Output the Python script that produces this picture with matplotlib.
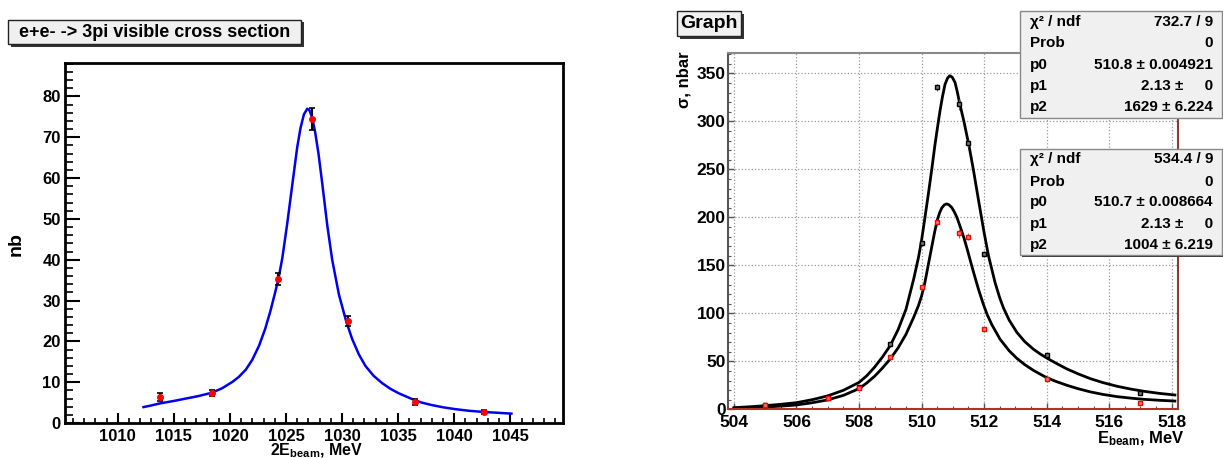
import matplotlib
matplotlib.use('Agg')
import matplotlib.pyplot as plt
from matplotlib.patches import Rectangle
from matplotlib.ticker import MultipleLocator

plt.rcParams['font.family'] = ['Liberation Sans', 'DejaVu Sans']
plt.rcParams['font.weight'] = 'bold'
plt.rcParams['mathtext.fontset'] = 'custom'
plt.rcParams['mathtext.rm'] = 'Liberation Sans:bold'
plt.rcParams['mathtext.it'] = 'Liberation Sans:bold'
plt.rcParams['mathtext.bf'] = 'Liberation Sans:bold'
plt.rcParams['mathtext.default'] = 'rm'

# ---- left panel: e+e- -> 3pi visible cross section
e_3pi = [1013.76, 1018.4, 1024.33, 1027.35, 1030.5, 1036.5, 1042.7]
xs_3pi = [6.4, 7.4, 35.3, 74.4, 25.0, 5.1, 2.7]
xs_3pi_err = [0.9, 0.8, 1.5, 2.7, 1.3, 0.7, 0.6]

fit_3pi_e = [1012.3, 1013.0, 1013.76, 1015.0, 1016.1, 1017.2, 1018.37, 1019.3, 1020.24,
             1020.8, 1021.43, 1022.0, 1022.61, 1023.14, 1023.6, 1024.0, 1024.33, 1024.68,
             1025.12, 1025.57, 1026.0, 1026.3, 1026.6, 1026.9, 1027.1, 1027.35, 1027.6,
             1027.9, 1028.23, 1028.68, 1029.12, 1029.72, 1030.36, 1030.9, 1031.5, 1032.08,
             1032.8, 1033.56, 1034.3, 1035.04, 1036.3, 1037.1, 1038.0, 1039.0, 1040.08,
             1041.3, 1042.65, 1043.9, 1045.1]
fit_3pi_xs = [3.9, 4.3, 4.8, 5.4, 6.0, 6.6, 7.4, 8.5, 10.1,
              11.3, 13.1, 15.5, 19.0, 23.0, 27.3, 31.6, 35.3, 40.5,
              49.0, 58.5, 67.5, 72.3, 75.6, 77.0, 76.6, 74.7, 71.3,
              66.0, 58.8, 48.5, 40.0, 31.5, 25.0, 20.6, 16.8, 14.0,
              11.6, 9.8, 8.4, 7.3, 5.8, 5.0, 4.4, 3.85, 3.4,
              3.0, 2.7, 2.5, 2.3]

# ---- right panel: two graphs vs E_beam
e_black = [505, 507, 508, 509, 510, 510.5, 511.2, 511.5, 512, 514, 517]
xs_black = [4.0, 12.0, 23.0, 67.7, 173, 335.4, 317.7, 277, 161.8, 56.2, 16.7]
err_black = [1.0, 1.5, 2.0, 2.5, 3.0, 3.5, 6.0, 3.5, 3.0, 2.0, 1.5]
e_red = [505, 507, 508, 509, 510, 510.5, 511.2, 511.5, 512, 514, 517]
xs_red = [4.0, 11.4, 21.9, 54.2, 127.7, 194.8, 183.3, 179.8, 83.6, 31.2, 6.6]
err_red = [1.0, 1.5, 2.0, 2.5, 3.0, 3.5, 5.0, 3.5, 2.5, 2.0, 1.5]

fit_hi_e = [504, 504.5, 505, 505.5, 506, 506.5, 507, 507.5, 508, 508.25, 508.5, 508.75,
            509, 509.25, 509.5, 509.75, 509.9, 510.0, 510.1, 510.22, 510.33, 510.43,
            510.52, 510.59, 510.67, 510.75, 510.83, 510.9, 510.98, 511.07, 511.14,
            511.21, 511.36, 511.52, 511.66, 511.82, 512.0, 512.14, 512.35, 512.5, 512.62,
            512.8, 513.05, 513.3, 513.58, 513.8, 514.0, 514.3, 514.65, 515.0, 515.39,
            515.8, 516.25, 516.7, 517.1, 517.6, 518.1]
fit_hi_xs = [1.7, 2.6, 3.8, 5.2, 6.9, 10, 14, 19.8, 28, 35, 44, 54.5,
             66.5, 83, 104, 136, 158, 176, 198, 225, 251, 276,
             296, 311, 326, 338.5, 345, 347.5, 346, 340.5, 331,
             320, 299, 274, 249, 218, 184, 160, 132, 116, 105.5,
             93, 80, 70.5, 62.5, 57.5, 53.5, 48, 42, 37, 32,
             27.8, 24.0, 21.0, 18.8, 16.6, 14.9]
fit_lo_e = [504, 504.5, 505, 505.5, 506, 506.5, 507, 507.5, 508, 508.25, 508.5, 508.75,
            509, 509.25, 509.5, 509.75, 509.9, 510.0, 510.1, 510.2, 510.33, 510.42,
            510.5, 510.58, 510.65, 510.73, 510.8, 510.88, 510.97, 511.05, 511.13,
            511.2, 511.28, 511.36, 511.44, 511.55, 511.66, 511.82, 511.98, 512.1,
            512.25, 512.51, 512.8, 513.05, 513.3, 513.58, 513.8, 514.0, 514.3, 514.65,
            515.0, 515.39, 515.8, 516.25, 516.7, 517.1, 517.6, 518.1]
fit_lo_xs = [1.0, 1.6, 2.4, 3.3, 4.5, 6.8, 9.8, 14.5, 21.5, 27.5, 34.5, 43,
             52.5, 64, 78, 96, 108, 118, 131, 148, 170, 185,
             197, 205, 210, 213, 214, 213, 210, 205.5, 200,
             193.5, 186, 178, 169, 156, 143, 125, 109, 98.5,
             88, 73, 61, 53, 46.5, 40.5, 36.5, 33, 29, 25,
             21.5, 18.2, 15.5, 13.2, 11.6, 10.4, 9.4, 8.6]

stats_hi = [('χ² / ndf', '732.7 / 9'), ('Prob', '0'), ('p0', '510.8 ± 0.004921'),
            ('p1', '2.13 ±     0'), ('p2', '1629 ± 6.224')]
stats_lo = [('χ² / ndf', '534.4 / 9'), ('Prob', '0'), ('p0', '510.7 ± 0.008664'),
            ('p1', '2.13 ±     0'), ('p2', '1004 ± 6.219')]

W, H = 1223, 458
fig = plt.figure(figsize=(W / 100, H / 100), dpi=100)
fig.patch.set_facecolor('white')

# left panel
ax1 = fig.add_axes([65 / W, 1 - 423 / H, 498 / W, 360 / H])
ax1.plot(fit_3pi_e, fit_3pi_xs, color='#0000ee', lw=1.8, zorder=2)
ax1.errorbar(e_3pi, xs_3pi, yerr=xs_3pi_err, fmt='o', color='red', ms=4,
             ecolor='black', elinewidth=1.5, capsize=2, capthick=1.2, zorder=3)
ax1.set_xlim(1005.3, 1049.7)
ax1.set_ylim(0, 88.2)
ax1.xaxis.set_minor_locator(MultipleLocator(1))
ax1.yaxis.set_major_locator(MultipleLocator(10))
ax1.yaxis.set_minor_locator(MultipleLocator(2))
ax1.set_xticks([1010, 1015, 1020, 1025, 1030, 1035, 1040, 1045])
for s in ax1.spines.values():
    s.set_linewidth(2)
ax1.tick_params(axis='y', which='major', direction='in', length=10.8, width=1.5, labelsize=12, pad=3)
ax1.tick_params(axis='y', which='minor', direction='in', length=5.5, width=1.2)
ax1.tick_params(axis='x', which='major', direction='in', length=7.2, width=1.5, labelsize=12, pad=4)
ax1.tick_params(axis='x', which='minor', direction='in', length=3.6, width=1.2)

# right panel
ax2 = fig.add_axes([728.3 / W, 1 - 409.3 / H, 449.4 / W, 356.6 / H])
ax2.grid(True, which='major', linestyle=':', color='#9a9a9a', lw=0.9)
ax2.plot(fit_hi_e, fit_hi_xs, color='black', lw=2, zorder=2)
ax2.plot(fit_lo_e, fit_lo_xs, color='black', lw=2, zorder=2)
ax2.errorbar(e_black, xs_black, yerr=err_black, fmt='s', color='black', ms=3,
             mfc='#777777', ecolor='#555555', elinewidth=0.8, capsize=0, zorder=3)
ax2.errorbar(e_red, xs_red, yerr=err_red, fmt='s', color='red', ms=3,
             mfc='#ff7777', ecolor='#777777', elinewidth=0.8, capsize=0, zorder=4)
ax2.set_xlim(503.82, 518.19)
ax2.set_ylim(0, 371.5)
ax2.xaxis.set_major_locator(MultipleLocator(2))
ax2.xaxis.set_minor_locator(MultipleLocator(0.5))
ax2.yaxis.set_major_locator(MultipleLocator(50))
ax2.yaxis.set_minor_locator(MultipleLocator(10))
ax2.spines['left'].set_color('#555555')
ax2.spines['top'].set_color('#8a8a8a')
ax2.spines['right'].set_color('#8b3a3a')
ax2.spines['bottom'].set_color('#b03030')
for s in ax2.spines.values():
    s.set_linewidth(1.5)
ax2.tick_params(which='major', direction='in', length=4.5, width=1, color='#555555',
                labelsize=12.5, pad=2)
ax2.tick_params(which='minor', direction='in', length=2.5, width=0.8, color='#555555')
ax2.tick_params(axis='x', pad=4)

# overlay in pixel coordinates for boxes and labels
ov = fig.add_axes([0, 0, 1, 1], zorder=10)
ov.set_xlim(0, W)
ov.set_ylim(H, 0)
ov.axis('off')
ov.patch.set_alpha(0)


def pave(x0, y0, x1, y1, edge='#222222', shadow=2.5):
    ov.add_patch(Rectangle((x0 + shadow, y0 + shadow), x1 - x0, y1 - y0,
                           facecolor='#333333', edgecolor='none'))
    ov.add_patch(Rectangle((x0, y0), x1 - x0, y1 - y0,
                           facecolor='#f0f0f0', edgecolor=edge, lw=1))


pave(8, 19.5, 301, 44)
ov.text(154.5, 32.5, 'e+e- -> 3pi visible cross section', ha='center', va='center', fontsize=13)
pave(677, 11, 741, 36)
ov.text(709, 24, 'Graph', ha='center', va='center', fontsize=14)

for (y0, y1, rows, ys) in [(10.7, 117.7, stats_hi, [21.7, 43.3, 65, 86, 107.3]),
                           (149, 255, stats_lo, [159.3, 181.7, 202.3, 224, 245])]:
    pave(1020, y0, 1222, y1, edge='#888888', shadow=1.5)
    for (lab, val), yy in zip(rows, ys):
        ov.text(1030, yy, lab, ha='left', va='center', fontsize=11)
        ov.text(1213, yy, val, ha='right', va='center', fontsize=11)

ov.text(16, 244, 'nb', rotation=90, ha='center', va='center', fontsize=14)
ov.text(317, 455.5, r'2E$_{beam}$, MeV', ha='center', va='baseline', fontsize=11.5)
ov.text(684, 80, 'σ, nbar', rotation=90, ha='center', va='center', fontsize=12)
ov.text(1184, 443, r'E$_{beam}$, MeV', ha='right', va='baseline', fontsize=12)

fig.savefig('out.png', dpi=100)
